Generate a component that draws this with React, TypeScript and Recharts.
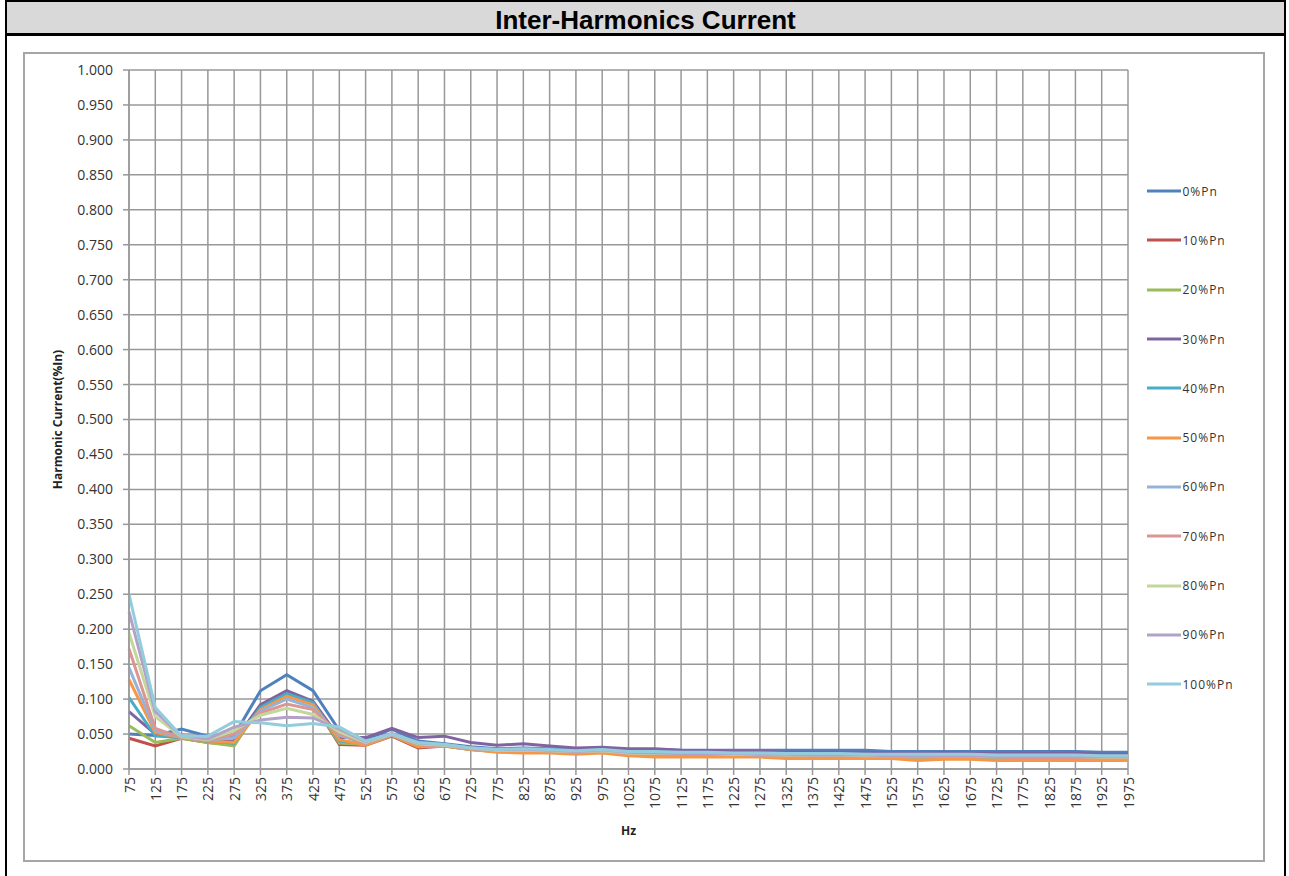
import React from 'react';
import { LineChart, Line, XAxis, YAxis, CartesianGrid, Legend, Label } from 'recharts';

const categories = [75, 125, 175, 225, 275, 325, 375, 425, 475, 525, 575, 625, 675, 725, 775, 825, 875, 925, 975, 1025, 1075, 1125, 1175, 1225, 1275, 1325, 1375, 1425, 1475, 1525, 1575, 1625, 1675, 1725, 1775, 1825, 1875, 1925, 1975];

const yTicks = [0, 0.05, 0.1, 0.15, 0.2, 0.25, 0.3, 0.35, 0.4, 0.45, 0.5, 0.55, 0.6, 0.65, 0.7, 0.75, 0.8, 0.85, 0.9, 0.95, 1.0];

const pn0 = [0.050, 0.048, 0.057, 0.047, 0.048, 0.112, 0.135, 0.112, 0.055, 0.042, 0.057, 0.040, 0.036, 0.032, 0.029, 0.030, 0.029, 0.028, 0.029, 0.028, 0.028, 0.027, 0.027, 0.027, 0.027, 0.027, 0.027, 0.027, 0.027, 0.025, 0.025, 0.025, 0.025, 0.025, 0.025, 0.025, 0.025, 0.024, 0.024];
const pn10 = [0.044, 0.033, 0.044, 0.038, 0.035, 0.090, 0.110, 0.095, 0.035, 0.034, 0.047, 0.030, 0.033, 0.028, 0.025, 0.025, 0.025, 0.023, 0.024, 0.021, 0.019, 0.019, 0.019, 0.019, 0.019, 0.018, 0.018, 0.018, 0.018, 0.017, 0.016, 0.017, 0.017, 0.016, 0.016, 0.016, 0.016, 0.016, 0.016];
const pn20 = [0.062, 0.038, 0.044, 0.038, 0.033, 0.090, 0.108, 0.094, 0.037, 0.035, 0.048, 0.032, 0.033, 0.028, 0.025, 0.025, 0.025, 0.023, 0.024, 0.021, 0.019, 0.019, 0.019, 0.019, 0.019, 0.018, 0.018, 0.018, 0.018, 0.017, 0.016, 0.017, 0.017, 0.016, 0.016, 0.016, 0.016, 0.016, 0.016];
const pn30 = [0.082, 0.050, 0.045, 0.040, 0.040, 0.092, 0.112, 0.097, 0.045, 0.045, 0.058, 0.045, 0.047, 0.038, 0.034, 0.036, 0.033, 0.030, 0.031, 0.029, 0.029, 0.027, 0.026, 0.025, 0.025, 0.024, 0.024, 0.024, 0.024, 0.023, 0.023, 0.024, 0.023, 0.023, 0.023, 0.022, 0.023, 0.021, 0.021];
const pn40 = [0.102, 0.047, 0.045, 0.040, 0.037, 0.088, 0.108, 0.095, 0.040, 0.036, 0.050, 0.036, 0.035, 0.030, 0.027, 0.028, 0.027, 0.025, 0.026, 0.024, 0.024, 0.023, 0.023, 0.022, 0.022, 0.021, 0.021, 0.021, 0.021, 0.020, 0.020, 0.020, 0.020, 0.019, 0.019, 0.019, 0.019, 0.018, 0.018];
const pn50 = [0.128, 0.052, 0.045, 0.040, 0.038, 0.085, 0.104, 0.092, 0.042, 0.034, 0.048, 0.032, 0.033, 0.028, 0.024, 0.023, 0.023, 0.021, 0.023, 0.019, 0.017, 0.017, 0.017, 0.017, 0.017, 0.015, 0.015, 0.015, 0.015, 0.015, 0.012, 0.014, 0.014, 0.012, 0.012, 0.012, 0.012, 0.012, 0.012];
const pn60 = [0.145, 0.055, 0.045, 0.041, 0.045, 0.083, 0.100, 0.088, 0.048, 0.037, 0.049, 0.035, 0.034, 0.029, 0.027, 0.027, 0.026, 0.024, 0.025, 0.023, 0.022, 0.021, 0.021, 0.021, 0.020, 0.019, 0.019, 0.019, 0.019, 0.018, 0.018, 0.018, 0.018, 0.017, 0.017, 0.017, 0.017, 0.017, 0.017];
const pn70 = [0.172, 0.058, 0.045, 0.041, 0.050, 0.080, 0.093, 0.085, 0.050, 0.037, 0.050, 0.035, 0.034, 0.029, 0.027, 0.027, 0.026, 0.024, 0.025, 0.022, 0.021, 0.021, 0.021, 0.021, 0.020, 0.019, 0.019, 0.018, 0.018, 0.018, 0.017, 0.018, 0.018, 0.017, 0.016, 0.016, 0.016, 0.016, 0.016];
const pn80 = [0.195, 0.075, 0.046, 0.042, 0.055, 0.077, 0.087, 0.078, 0.053, 0.038, 0.050, 0.036, 0.034, 0.030, 0.027, 0.027, 0.026, 0.025, 0.026, 0.023, 0.022, 0.022, 0.022, 0.021, 0.021, 0.020, 0.020, 0.020, 0.019, 0.019, 0.019, 0.019, 0.019, 0.018, 0.018, 0.018, 0.018, 0.017, 0.017];
const pn90 = [0.225, 0.082, 0.047, 0.043, 0.060, 0.070, 0.074, 0.073, 0.057, 0.039, 0.051, 0.037, 0.035, 0.030, 0.028, 0.028, 0.027, 0.025, 0.027, 0.024, 0.023, 0.022, 0.022, 0.022, 0.021, 0.021, 0.020, 0.020, 0.020, 0.019, 0.019, 0.019, 0.019, 0.018, 0.018, 0.018, 0.018, 0.018, 0.018];
const pn100 = [0.250, 0.088, 0.047, 0.047, 0.068, 0.066, 0.062, 0.065, 0.060, 0.040, 0.050, 0.038, 0.035, 0.030, 0.028, 0.029, 0.028, 0.026, 0.028, 0.025, 0.025, 0.024, 0.024, 0.023, 0.023, 0.022, 0.022, 0.022, 0.021, 0.021, 0.021, 0.021, 0.021, 0.020, 0.020, 0.020, 0.020, 0.019, 0.019];

const seriesNames = ['0%Pn', '10%Pn', '20%Pn', '30%Pn', '40%Pn', '50%Pn', '60%Pn', '70%Pn', '80%Pn', '90%Pn', '100%Pn'];
const seriesKeys = ['p0', 'p10', 'p20', 'p30', 'p40', 'p50', 'p60', 'p70', 'p80', 'p90', 'p100'];
const seriesColors = ['#4F81BD', '#C0504D', '#9BBB59', '#8064A2', '#4BACC6', '#F79646', '#95B3D7', '#D99694', '#C3D69B', '#B3A2C7', '#93CDDD'];
const seriesValues = [pn0, pn10, pn20, pn30, pn40, pn50, pn60, pn70, pn80, pn90, pn100];

const data = categories.map((hz, i) => {
  const row: Record<string, number | string> = { hz: String(hz) };
  seriesKeys.forEach((k, s) => {
    row[k] = seriesValues[s][i];
  });
  return row;
});

const GRID = '#989898';
const FONT = '"Open Sans", "Noto Sans", sans-serif';

const XTick = (props: any) => {
  const { x, y, payload } = props;
  return (
    <text
      x={x}
      y={y}
      transform={`rotate(-90 ${x} ${y})`}
      textAnchor="end"
      dominantBaseline="central"
      fontSize={14}
      fontFamily={FONT}
      fill="#333"
    >
      {payload.value}
    </text>
  );
};

const renderLegend = (props: any) => {
  const payload = [...(props.payload || [])].sort(
    (a: any, b: any) => seriesNames.indexOf(a.value) - seriesNames.indexOf(b.value)
  );
  return (
    <div style={{ display: 'flex', flexDirection: 'column' }}>
      {payload.map((p: any) => (
        <div key={p.value} style={{ height: 49.3, display: 'flex', alignItems: 'center' }}>
          <svg width={34} height={6} style={{ display: 'block' }}>
            <line x1={0} y1={3} x2={34} y2={3} stroke={p.color} strokeWidth={3} />
          </svg>
          <span style={{ marginLeft: 2, fontSize: 12, fontFamily: FONT, color: '#333', letterSpacing: 1 }}>{p.value}</span>
        </div>
      ))}
    </div>
  );
};

export default function App() {
  return (
    <div
      style={{
        position: 'absolute',
        left: 5,
        top: 0,
        width: 1281,
        height: 900,
        borderLeft: '2.5px solid #000',
        borderRight: '2.5px solid #000',
        borderTop: '2.5px solid #000',
        boxSizing: 'border-box',
        background: '#fff',
      }}
    >
      <div
        style={{
          height: 34,
          background: '#d9d9d9',
          borderBottom: '3px solid #000',
          boxSizing: 'border-box',
          textAlign: 'center',
          fontFamily: '"Liberation Sans", Arial, sans-serif',
          fontWeight: 'bold',
          fontSize: 26,
          color: '#000',
        }}
      >
        <div style={{ height: 31, lineHeight: '37px', overflow: 'visible' }}>Inter-Harmonics Current</div>
      </div>
      <div
        style={{
          position: 'absolute',
          left: 15.5,
          top: 49.5,
          width: 1242,
          height: 810,
          border: '2px solid #a6a6a6',
          boxSizing: 'border-box',
        }}
      >
        <LineChart
          width={1238}
          height={806}
          data={data}
          margin={{ top: 16, right: 135, bottom: 25, left: 20 }}
        >
          <CartesianGrid stroke={GRID} strokeWidth={1.5} vertical={true} horizontal={true} />
          <XAxis
            dataKey="hz"
            interval={0}
            height={66}
            tickSize={6}
            tickMargin={2}
            tick={<XTick />}
            axisLine={{ stroke: GRID, strokeWidth: 1.5 }}
            tickLine={{ stroke: GRID, strokeWidth: 1.5 }}
          >
            <Label
              value="Hz"
              position="insideBottom"
              offset={0}
              style={{ fontFamily: FONT, fontWeight: 'bold', fontSize: 12, fill: '#222' }}
            />
          </XAxis>
          <YAxis
            width={84}
            domain={[0, 1]}
            ticks={yTicks}
            interval={0}
            tickSize={6}
            tickMargin={10}
            tickFormatter={(v: number) => v.toFixed(3)}
            tick={{ fontSize: 14, fontFamily: FONT, fill: '#333' }}
            axisLine={{ stroke: GRID, strokeWidth: 1.5 }}
            tickLine={{ stroke: GRID, strokeWidth: 1.5 }}
          >
            <Label
              value="Harmonic Current(%In)"
              angle={-90}
              position="insideLeft"
              offset={13}
              style={{ textAnchor: 'middle', fontFamily: FONT, fontWeight: 'bold', fontSize: 12, fill: '#222' }}
            />
          </YAxis>
          {seriesKeys.map((k, s) => (
            <Line
              key={k}
              type="linear"
              dataKey={k}
              name={seriesNames[s]}
              stroke={seriesColors[s]}
              strokeWidth={3}
              dot={false}
              activeDot={false}
              isAnimationActive={false}
            />
          ))}
          <Legend
            layout="horizontal"
            verticalAlign="middle"
            align="center"
            content={renderLegend}
            wrapperStyle={{ left: 1122, top: 113, width: 110 }}
          />
        </LineChart>
      </div>
    </div>
  );
}
